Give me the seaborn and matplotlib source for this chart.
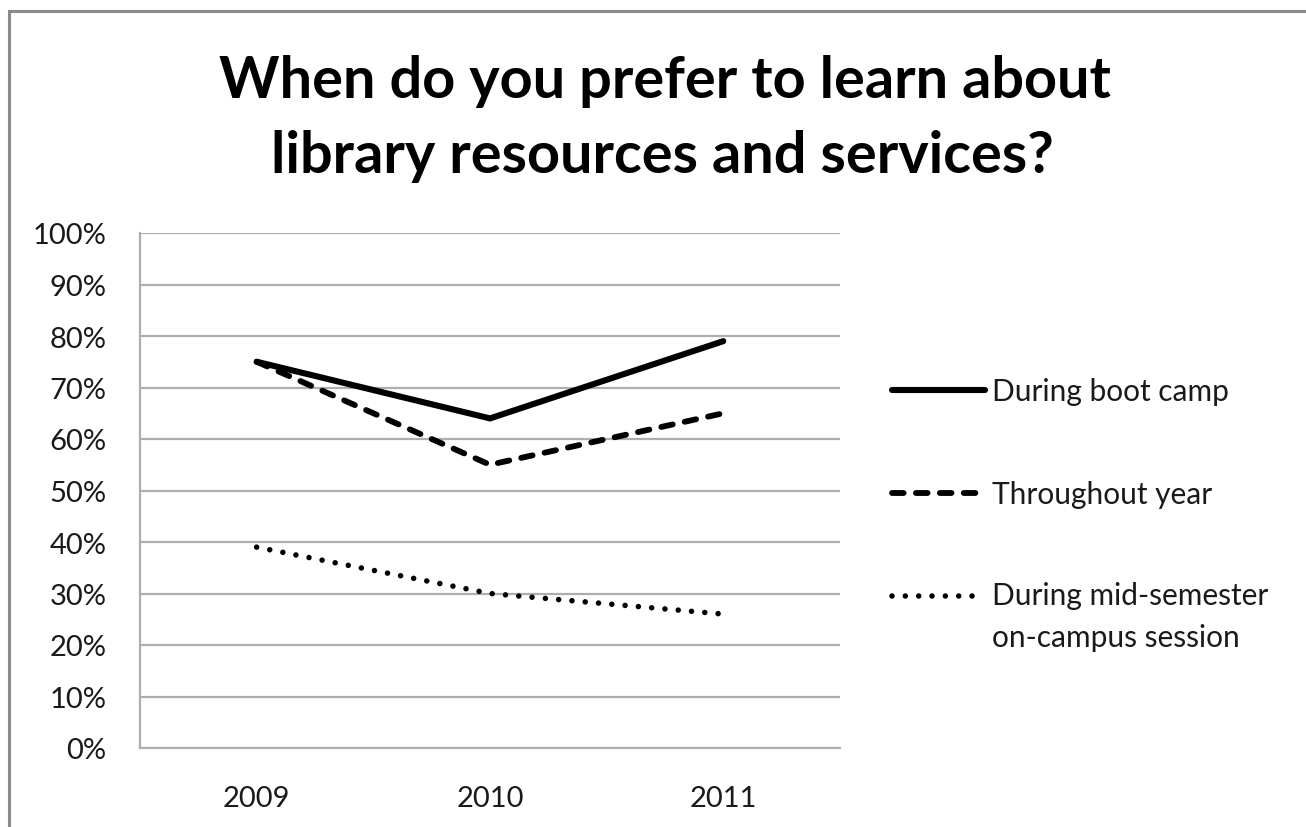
import matplotlib
matplotlib.use("Agg")
import matplotlib.pyplot as plt
import seaborn as sns
import pandas as pd
from matplotlib.lines import Line2D
from matplotlib.patches import Rectangle

# ---- data -------------------------------------------------------------
years = ["2009", "2010", "2011"]
boot_camp = [75, 64, 79]
throughout_year = [75, 55, 65]
mid_semester = [39, 30, 26]
series_names = ["During boot camp", "Throughout year",
                "During mid-semester\non-campus session"]
y_ticks = list(range(0, 101, 10))
y_tick_labels = [f"{v}%" for v in y_ticks]
title_lines = ["When do you prefer to learn about",
               "library resources and services?"]

# ---- styling ----------------------------------------------------------
sns.set_theme(style="white")
plt.rcParams["font.family"] = ["Lato", "DejaVu Sans"]

W, H = 1306, 828
TEXT = "#1a1a1a"
GRID = "#aeaeae"

# line styles per series: width (pt) and dash pattern (in line widths)
styles = {
    series_names[0]: dict(lw=4.4, dashes=None),
    series_names[1]: dict(lw=4.2, dashes=(2.0, 2.1)),
    series_names[2]: dict(lw=4.0, dashes=(0.001, 2.4)),
}

df = pd.DataFrame({
    "year": years * 3,
    "value": boot_camp + throughout_year + mid_semester,
    "series": [n for n in series_names for _ in years],
})

fig = plt.figure(figsize=(W / 100, H / 100), dpi=100)
ax = fig.add_axes([140 / W, (H - 749) / H, 700 / W, 515 / H])

for name in series_names:
    sub = df[df["series"] == name]
    st = styles[name]
    sns.lineplot(data=sub, x="year", y="value", ax=ax, color="black",
                 legend=False, sort=False)
    line = ax.lines[-1]
    line.set_linewidth(st["lw"])
    line.set_solid_capstyle("round")
    line.set_solid_joinstyle("miter")
    if st["dashes"] is not None:
        line.set_dashes(st["dashes"])
        line.set_dash_capstyle("round")

ax.set_xlim(-0.5, 2.5)
ax.set_ylim(0, 100)
ax.set_yticks(y_ticks, labels=y_tick_labels)
ax.set_xlabel("")
ax.set_ylabel("")
ax.yaxis.grid(True, color=GRID, lw=1.6)
ax.set_axisbelow(True)
for side in ("top", "right"):
    ax.spines[side].set_visible(False)
for side in ("left", "bottom"):
    ax.spines[side].set_color(GRID)
    ax.spines[side].set_linewidth(1.6)
ax.tick_params(axis="both", length=0, labelsize=21, colors=TEXT)
ax.tick_params(axis="y", pad=24)
ax.tick_params(axis="x", pad=27)

# ---- title --------------------------------------------------------------
fig.text(665 / W, 1 - 98 / H, title_lines[0], ha="center", va="baseline",
         fontsize=41.5, fontweight="bold", color="black")
fig.text(662 / W, 1 - 173 / H, title_lines[1], ha="center", va="baseline",
         fontsize=41.5, fontweight="bold", color="black")

# ---- legend -------------------------------------------------------------
handle_y = [390.7, 494, 596.7]
text_base = [401, 504, 647]   # baseline of each label's last line
for name, hy, ty in zip(series_names, handle_y, text_base):
    st = styles[name]
    ln = Line2D([892 / W, 985 / W], [1 - hy / H] * 2, transform=fig.transFigure,
                color="black", lw=st["lw"], solid_capstyle="round")
    if st["dashes"] is not None:
        ln.set_dashes(st["dashes"])
        ln.set_dash_capstyle("round")
    fig.add_artist(ln)
    fig.text(992 / W, 1 - ty / H, name, ha="left", va="baseline",
             fontsize=21.5, color=TEXT, linespacing=1.62)

# ---- outer frame --------------------------------------------------------
fig.add_artist(Rectangle((9 / W, -0.1), 1.5, 1 - 12 / H + 0.1,
                         transform=fig.transFigure, fill=False,
                         ec="#8a8a8a", lw=2.2))

fig.savefig("out.png", dpi=100, facecolor="white")
